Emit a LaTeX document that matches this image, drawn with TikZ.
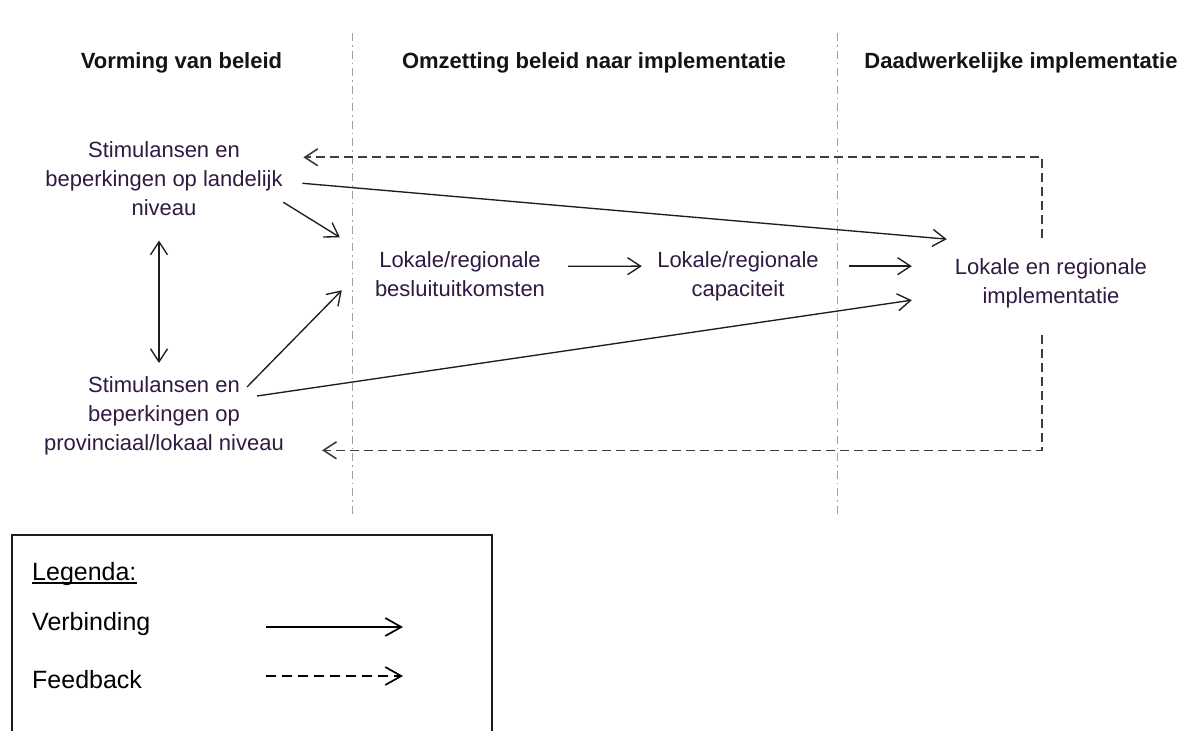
\documentclass[tikz,border=0pt]{standalone}
\usepackage{fontspec}
\setmainfont{Liberation Sans}
\usetikzlibrary{arrows.meta,calc}
\definecolor{nodetext}{RGB}{48,26,66}
\definecolor{linegray}{RGB}{30,30,30}
\definecolor{fbgray}{RGB}{62,62,62}
\definecolor{divgray}{RGB}{160,160,160}

\begin{document}
\begin{tikzpicture}[x=1pt,y=-1pt,
  >={Straight Barb[length=13pt,width=17pt]},
  heading/.style={font=\fontsize{22}{26}\selectfont\bfseries, text=black!92, inner sep=0pt, anchor=base},
  block/.style={font=\fontsize{22}{29}\selectfont, text=nodetext, align=center, inner sep=0pt, anchor=north},
  link/.style={draw=linegray, line width=1.35pt, ->},
  twoway/.style={draw=linegray, line width=1.35pt, <->},
  feedback/.style={draw=fbgray, line width=1.6pt, dash pattern=on 9pt off 5pt, ->},
  divider/.style={draw=divgray, line width=0.9pt, dash pattern=on 8pt off 4pt on 1.5pt off 4pt},
  legtext/.style={font=\fontsize{25}{30}\selectfont, text=black, inner sep=0pt, anchor=base west},
  legarrow/.style={draw=black, line width=1.7pt, -{Straight Barb[length=16pt,width=18pt]}},
]
% canvas
\fill[white] (0,0) rectangle (1187,731);
\useasboundingbox (0,0) rectangle (1187,731);

% column dividers
\draw[divider] (352,33) -- (352,515);
\draw[divider] (837,33) -- (837,515);

% column headings
\node[heading] (h1) at (181.5,68) {Vorming van beleid};
\node[heading] (h2) at (594,68) {Omzetting beleid naar implementatie};
\node[heading] (h3) at (1021,68) {Daadwerkelijke implementatie};

% blocks
\node[block] (A) at (164,141) {Stimulansen en\\beperkingen op landelijk\\niveau};
\node[block] (C) at (164,376) {Stimulansen en\\beperkingen op\\provinciaal/lokaal niveau};
\node[block] (B) at (460,251) {Lokale/regionale\\besluituitkomsten};
\node[block] (Cap) at (738,251) {Lokale/regionale\\capaciteit};
\node[block] (Impl) at (1051,258) {Lokale en regionale\\implementatie};

% connections
\draw[twoway] ($(A.south)+(-5,25)$) -- ($(C.north)+(-5,-13)$);
\draw[link] ($(A.east)+(0.5,24)$) -- ($(B.west)+(-35,-36.5)$);
\draw[link] ($(C.north)+(83,11)$) -- ($(B.west)+(-33,16.5)$);
\draw[link] ($(A.east)+(19.5,5)$) -- ($(Impl.west)+(-8,-43.8)$);
\draw[link] ($(C.north)+(93,20)$) -- ($(Impl.west)+(-43,17.2)$);
\draw[link] ($(B.east)+(23,-7.5)$) -- ($(Cap.west)+(-15.3,-9.8)$);
\draw[link] ($(Cap.east)+(30.3,-9.8)$) -- ($(Impl.west)+(-43,-16.8)$);

% feedback loops
\coordinate (fbTop) at ($(Impl.north)+(-9,-20)$);
\coordinate (fbBot) at ($(Impl.south)+(-9,27.4)$);
\draw[feedback] (fbTop) |- ($(A.east)+(20.5,-21)$);
\draw[feedback] (fbBot) |- ($(C.south east)+(38,-4.6)$);

% legend
\draw[draw=linegray, line width=1.3pt] (12,732) -- (12,535) -- (492,535) -- (492,732);
\node[legtext] (leg) at (32,580) {Legenda:};
\draw[line width=1.1pt] ([yshift=-3pt]leg.base west) -- ([yshift=-3pt]leg.base east);
\node[legtext] (legV) at (32,630) {Verbinding};
\node[legtext] (legF) at (32,688) {Feedback};
\coordinate (lvS) at (266,627);
\coordinate (lvE) at (403,627);
\coordinate (lfS) at (266,676);
\coordinate (lfE) at (403,676);
\draw[legarrow] (lvS) -- (lvE);
\draw[legarrow, dash pattern=on 10pt off 6pt] (lfS) -- (lfE);
\end{tikzpicture}
\end{document}
